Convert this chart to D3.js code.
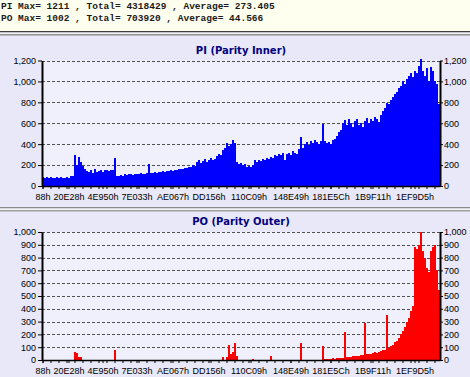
<!DOCTYPE html>
<html>
<head>
<meta charset="utf-8">
<script src="https://cdnjs.cloudflare.com/ajax/libs/d3/7.8.5/d3.min.js"></script>
<style>
    body { margin: 0; padding: 0; background: #E8E8F8; }
    svg { display: block; }
    .axis text { font-family: "Liberation Sans", Arial, sans-serif; font-size: 9px; fill: #000; }
    .title { font-family: "DejaVu Sans", Verdana, sans-serif; font-weight: bold; font-size: 10px; fill: #000080; }
    .stats { font-family: "Liberation Mono", "Courier New", monospace; font-size: 9.5px; font-weight: bold; fill: #1a1a1a; }
</style>
</head>
<body>
<svg id="chart" width="470" height="377"></svg>
<script>
// summary lines at the top
const statLines = [
    "PI Max= 1211 , Total= 4318429 , Average= 273.405",
    "PO Max= 1002 , Total= 703920 , Average= 44.566"
];

// address labels on the x axis and the bar they sit under
const addrLabels = ["88h", "20E28h", "4E950h", "7E033h", "AE067h", "DD156h", "110C09h", "148E49h", "181E5Ch", "1B9F11h", "1EF9D5h"];
const addrIndex = [0, 13, 30, 47, 65, 83, 103, 124, 144, 165, 186];

const piValues = [
    85, 80, 82, 78, 85, 80, 76, 82, 80, 85, 78, 80, 82, 78,
    95, 100,
    295, 200, 280, 230, 190, 160, 140,
    130, 155, 125, 160, 135, 140, 150, 130, 155, 150, 140, 155, 150,
    265,
    95, 100, 105, 100, 110, 105, 110, 115, 105, 110, 115, 110, 120, 115, 110, 120,
    210,
    125, 120, 130, 125, 135, 130, 140, 135, 145, 140, 150, 145, 155, 150, 160, 165, 160, 170,
    175, 185, 180, 200, 190, 230, 250, 220,
    240, 260, 230, 250, 270, 245, 260,
    290, 310, 300, 340, 360, 410, 380, 400, 440, 410,
    230, 215,
    220, 200, 210, 185, 195, 180, 200,
    250, 230, 250, 240, 260, 250, 270, 260, 280, 270, 300, 290, 310, 300, 320,
    250, 310, 320, 300, 330, 320, 310, 350,
    470,
    360, 400, 420, 390, 430, 410, 440, 420, 400, 430,
    590,
    430, 410, 420, 400, 440, 450,
    480, 520, 540, 600, 630,
    580, 640, 600, 560, 620, 640, 580, 600, 560, 620, 650, 600, 640, 620, 660, 640, 610,
    680, 720, 750, 790, 780,
    820, 850, 880, 900, 940, 960, 1000, 980,
    1020, 1050, 1080, 1040, 1100, 1080, 1150, 1211,
    1100, 1050, 1130, 1000, 1140, 1100, 1000, 980,
    780
];

const poValues = [
    0, 0, 0, 0, 0, 0, 0, 0, 0, 0, 0, 0, 0, 0, 0, 0,
    60, 55, 25, 20,
    0, 0, 0, 0, 0, 0, 0, 0, 0, 0, 0, 0, 0, 0, 0, 0,
    75,
    0, 0, 0, 0, 0, 0, 0, 0, 0, 0, 0, 0, 0, 0, 0, 0, 0, 0, 0, 0, 0, 0, 0, 0, 0, 0,
    0, 0, 0, 0, 0, 0, 0, 0, 0, 0, 0, 0, 0, 0, 0, 0, 0, 0, 0, 0, 0, 0, 0, 0, 0, 0, 0,
    25, 0,
    20, 120, 50, 60, 135, 30,
    0, 0, 0, 0, 0, 0, 0,
    10,
    0, 0, 0, 0, 0, 0, 0, 0,
    30,
    0, 0, 0, 0, 0, 0, 0, 0, 0, 0, 0, 0, 0, 0,
    130,
    0, 0, 0, 0, 0, 0, 0, 0, 0, 0,
    110,
    5, 8, 10, 8, 12, 10, 15, 12, 15, 18,
    215,
    20, 25, 22, 30, 28, 35, 30, 40, 38,
    290,
    45, 50, 48, 55, 60, 58, 65, 70, 75, 80,
    350,
    95, 110, 120, 140, 150, 170, 200, 230, 260, 300, 330, 380, 420,
    880, 870, 900, 1002,
    850, 800, 720, 690, 850, 880, 900, 700, 550
];

const piTicks = [0, 200, 400, 600, 800, 1000, 1200];
const poTicks = [0, 100, 200, 300, 400, 500, 600, 700, 800, 900, 1000];

const plot_left = 42, plot_right = 440;

const svg = d3.select("#chart");

// header strip
svg.append("rect").attr("x", 0).attr("y", 0).attr("width", 470).attr("height", 31).attr("fill", "#FFFFF0");
svg.append("rect").attr("x", 0).attr("y", 31).attr("width", 470).attr("height", 1.5).attr("fill", "#404040");
svg.append("rect").attr("x", 0).attr("y", 32.5).attr("width", 470).attr("height", 1.5).attr("fill", "#F4F4F4");
svg.append("rect").attr("x", 0).attr("y", 34).attr("width", 470).attr("height", 1.5).attr("fill", "#909090");

svg.selectAll(".stats")
    .data(statLines)
    .enter().append("text")
    .attr("class", "stats")
    .attr("x", 1)
    .attr("y", function (d, i) { return 8.5 + i * 12; })
    .text(function (d) { return d; });

// separator between the two panels
svg.append("rect").attr("x", 0).attr("y", 207).attr("width", 470).attr("height", 1.5).attr("fill", "#8A8A8A");
svg.append("rect").attr("x", 0).attr("y", 208.5).attr("width", 470).attr("height", 1.5).attr("fill", "#F4F4F4");
svg.append("rect").attr("x", 0).attr("y", 210).attr("width", 470).attr("height", 1.5).attr("fill", "#A0A0A0");

const panels = [
    {title: "PI (Parity Inner)", titleY: 54, top: 60.5, bottom: 186, values: piValues, ticks: piTicks, max: 1200, color: "#0000FF"},
    {title: "PO (Parity Outer)", titleY: 225, top: 232, bottom: 360, values: poValues, ticks: poTicks, max: 1000, color: "#FF0000"}
];

panels.forEach(function (p) {

    var x = d3.scaleBand()
        .domain(d3.range(p.values.length))
        .range([plot_left, plot_right])
        .paddingInner(0);

    var y = d3.scaleLinear()
        .domain([0, p.max])
        .range([p.bottom, p.top]);

    var g = svg.append("g");

    g.append("rect")
        .attr("x", plot_left).attr("y", p.top)
        .attr("width", plot_right - plot_left).attr("height", p.bottom - p.top)
        .attr("fill", "#F0F0FC");

    g.append("text")
        .attr("class", "title")
        .attr("x", (plot_left + plot_right) / 2)
        .attr("y", p.titleY)
        .attr("text-anchor", "middle")
        .text(p.title);

    //dashed grid
    g.selectAll(".grid")
        .data(p.ticks.filter(function (d) { return d > 0; }))
        .enter().append("line")
        .attr("class", "grid")
        .attr("x1", plot_left).attr("x2", plot_right)
        .attr("y1", function (d) { return Math.round(y(d)) + 0.5; })
        .attr("y2", function (d) { return Math.round(y(d)) + 0.5; })
        .attr("stroke", "#505050")
        .attr("stroke-dasharray", "3,2");

    g.selectAll(".bar")
        .data(p.values)
        .enter().append("rect")
        .attr("class", "bar")
        .attr("x", function (d, i) { return x(i); })
        .attr("width", x.bandwidth())
        .attr("y", function (d) { return y(d); })
        .attr("height", function (d) { return p.bottom - y(d); })
        .attr("fill", p.color)
        .attr("shape-rendering", "crispEdges");

    // minor ticks under the plot
    var minor = d3.range(0, p.values.length, 4);
    g.append("g")
        .attr("class", "axis")
        .attr("transform", "translate(0," + p.bottom + ")")
        .call(d3.axisBottom(x).tickValues(minor).tickSize(3).tickSizeOuter(0).tickFormat(""));

    var xAxis = g.append("g")
        .attr("class", "axis")
        .attr("transform", "translate(0," + p.bottom + ")")
        .call(d3.axisBottom(x)
            .tickValues(addrIndex)
            .tickSize(3)
            .tickSizeOuter(0)
            .tickPadding(5)
            .tickFormat(function (d) { return addrLabels[addrIndex.indexOf(d)]; }));
    xAxis.select(".domain").attr("stroke", "#000").attr("stroke-width", 1.5);

    var leftAxis = g.append("g")
        .attr("class", "axis")
        .attr("transform", "translate(" + plot_left + ",0)")
        .call(d3.axisLeft(y).tickValues(p.ticks).tickSize(4).tickSizeOuter(0).tickPadding(2).tickFormat(d3.format(",")));
    leftAxis.select(".domain").attr("stroke-width", 2);

    var rightAxis = g.append("g")
        .attr("class", "axis")
        .attr("transform", "translate(" + plot_right + ",0)")
        .call(d3.axisRight(y).tickValues(p.ticks).tickSize(3).tickSizeOuter(0).tickPadding(1).tickFormat(d3.format(",")));
    rightAxis.select(".domain").attr("stroke-width", 2);
});
</script>
</body>
</html>
